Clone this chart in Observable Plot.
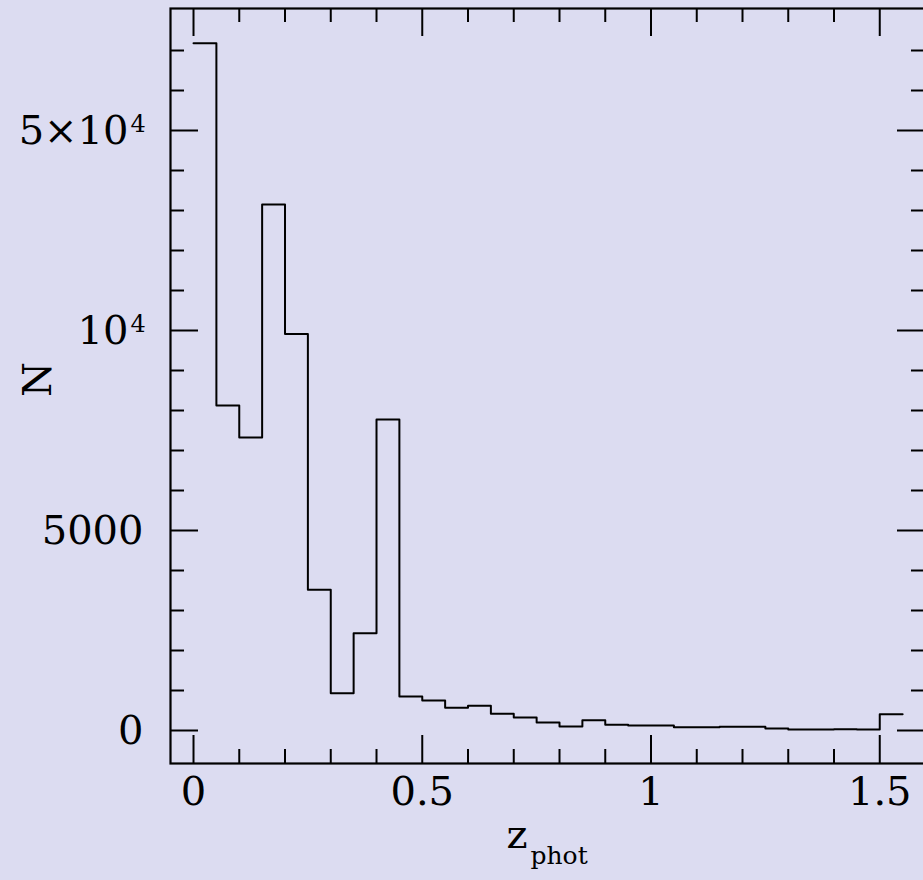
<!DOCTYPE html>
<html>
<head>
<meta charset="utf-8">
<script src="https://cdn.jsdelivr.net/npm/d3@7"></script>
<script src="https://cdn.jsdelivr.net/npm/@observablehq/plot@0.6"></script>
<style>
  html, body { margin: 0; padding: 0; background: #dcdcf1; }
  #chart svg { display: block; }
</style>
</head>
<body>
<div id="chart"></div>
<script>
// Histogram bins (left edges, width 0.05) of z_phot and counts N
const binLeft = [0, 0.05, 0.1, 0.15, 0.2, 0.25, 0.3, 0.35, 0.4, 0.45, 0.5, 0.55, 0.6, 0.65, 0.7, 0.75,
                 0.8, 0.85, 0.9, 0.95, 1.0, 1.05, 1.1, 1.15, 1.2, 1.25, 1.3, 1.35, 1.4, 1.45, 1.5];
const lastRightEdge = 1.55;
const counts = [101000, 8125, 7325, 27570, 9910, 3520, 930, 2430, 7775, 850, 750, 568, 618, 418, 325, 200,
                100, 258, 143, 125, 125, 83, 83, 93, 93, 50, 25, 25, 33, 25, 408];

// Axis ticks
const xMajor = [0, 0.5, 1, 1.5];
const xMajorLabels = ["0", "0.5", "1", "1.5"];
const xMinor = [0.1, 0.2, 0.3, 0.4, 0.6, 0.7, 0.8, 0.9, 1.1, 1.2, 1.3, 1.4];
const yMajor = [0, 5000, 10000, 50000];
const yLabelBase = ["0", "5000", "10", "5×10"];
const yLabelExp = ["", "", "4", "4"];
// minor ticks in axis units (the axis is linear up to 10^4, logarithmic above)
const yMinorUnits = [1, 2, 3, 4, 6, 7, 8, 9, 11, 12, 13, 14, 16, 17];

// axis transform: linear below 10^4, log above (5 units per factor of 5)
const g = N => N <= 1e4 ? N / 1000 : 10 + 5 * Math.log(N / 1e4) / Math.log(5);

const steps = binLeft.map((x, i) => ({x, N: counts[i]}));
steps.push({x: lastRightEdge, N: counts[counts.length - 1]});

const yPlain = yMajor.map((v, i) => ({v, base: yLabelBase[i], exp: yLabelExp[i]})).filter(d => !d.exp);
const yPow = yMajor.map((v, i) => ({v, base: yLabelBase[i], exp: yLabelExp[i]})).filter(d => d.exp);

const font = "DejaVu Serif";
const ink = "#000";
const H = 755, L = 28, l = 14;

const chart = Plot.plot({
  width: 923,
  height: 880,
  marginLeft: 170,
  marginRight: -2,
  marginTop: 8,
  marginBottom: 117,
  style: {background: "#dcdcf1", fontFamily: font, overflow: "visible"},
  x: {domain: [-0.0503, 1.6], axis: null},
  y: {domain: [-0.825, 18.05], axis: null},
  marks: [
    Plot.frame({stroke: ink, strokeWidth: 2.2}),
    // bottom ticks
    Plot.tickX(xMajor, {x: d => d, insetTop: H - L, stroke: ink, strokeWidth: 2}),
    Plot.tickX(xMinor, {x: d => d, insetTop: H - l, stroke: ink, strokeWidth: 2}),
    // top ticks
    Plot.tickX(xMajor, {x: d => d, insetBottom: H - L, stroke: ink, strokeWidth: 2}),
    Plot.tickX(xMinor, {x: d => d, insetBottom: H - l, stroke: ink, strokeWidth: 2}),
    // left ticks
    Plot.tickY(yMajor, {y: d => g(d), insetRight: H - L, stroke: ink, strokeWidth: 2}),
    Plot.tickY(yMinorUnits, {y: d => d, insetRight: H - l, stroke: ink, strokeWidth: 2}),
    // right ticks
    Plot.tickY(yMajor, {y: d => g(d), insetLeft: H - L, stroke: ink, strokeWidth: 2}),
    Plot.tickY(yMinorUnits, {y: d => d, insetLeft: H - l, stroke: ink, strokeWidth: 2}),
    // histogram outline
    Plot.line(steps, {x: "x", y: d => g(d.N), curve: "step-after", stroke: ink, strokeWidth: 2}),
    // tick labels
    Plot.text(xMajor, {x: d => d, text: (d, i) => xMajorLabels[i], frameAnchor: "bottom", dy: 41,
                       fontSize: 40, fontFamily: font, fill: ink}),
    Plot.text(yPlain, {y: d => g(d.v), text: "base", frameAnchor: "left", textAnchor: "end",
                       dx: -27, dy: 1, fontSize: 40, fontFamily: font, fill: ink}),
    Plot.text(yPow, {y: d => g(d.v), text: "base", frameAnchor: "left", textAnchor: "end",
                     dx: -42, dy: 1, fontSize: 40, fontFamily: font, fill: ink}),
    Plot.text(yPow, {y: d => g(d.v), text: "exp", frameAnchor: "left", textAnchor: "start",
                     dx: -40, dy: -6, fontSize: 24, fontFamily: font, fill: ink}),
    // axis titles
    Plot.text(["N"], {text: d => d, frameAnchor: "left", dx: -132, dy: 11, rotate: -90,
                      fontSize: 40, fontFamily: font, fill: ink}),
    Plot.text(["z"], {text: d => d, frameAnchor: "bottom", dx: -31, dy: 84,
                      fontSize: 40, fontFamily: font, fill: ink}),
    Plot.text(["phot"], {text: d => d, frameAnchor: "bottom", textAnchor: "start", dx: -17.5, dy: 100,
                         fontSize: 25, fontFamily: font, fill: ink})
  ]
});
document.getElementById("chart").appendChild(chart);
</script>
</body>
</html>
